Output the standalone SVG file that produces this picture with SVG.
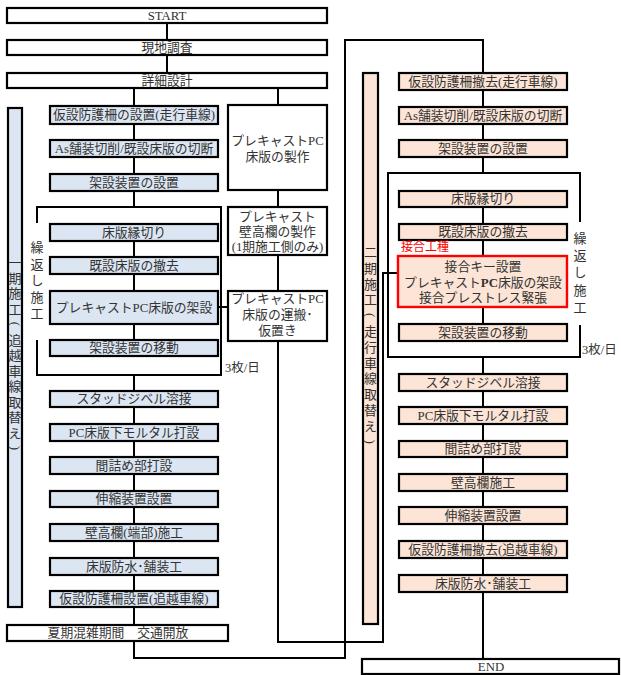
<svg xmlns="http://www.w3.org/2000/svg" width="621" height="675" viewBox="0 0 621 675">
<style>
.w{fill:#fff;stroke:#000;stroke-width:2.2}
.b{fill:#dce6f2;stroke:#000;stroke-width:2.2}
.p{fill:#fce4d6;stroke:#000;stroke-width:2.2}
.r{fill:#fce4d6;stroke:#ff0000;stroke-width:2.4}
.c{fill:none;stroke:#000;stroke-width:2}
text{font-family:"Liberation Serif","Noto Sans CJK JP",serif;font-size:12.8px;fill:#333;text-anchor:middle;dominant-baseline:central}
.v{font-size:13px}
.s{font-size:12.5px;text-anchor:start}
.red{fill:#ff0000;font-size:12px;text-anchor:start}
</style>
<g id="connectors">
<path class="c" d="M167 23V40M167 55V73M134 88V106M278 88V105M134 124V140M134 157V174M134 191V207M134 241V257M134 274V291M134 324V340M134 375V391M134 407V424M134 441V457M134 474V491M134 507V524M134 541V558M134 575V591M134 607V625"/>
<path class="c" d="M278 190V207M278 255V291M218 307H228"/>
<path class="c" d="M278 341V642H383V273H399"/>
<path class="c" d="M134 641V658H345V40H483V73"/>
<path class="c" d="M483 90V107M483 124V140M483 157V173M483 207V224M483 240V256M483 307V324M483 357V374M483 391V407M483 424V441M483 457V474M483 491V507M483 524V541M483 558V575M483 592V659"/>
</g>
<g id="loop1">
<path class="c" d="M37 223V207H221V375H37V340"/>
<text class="v"><tspan x="37" y="247">繰</tspan><tspan x="37" y="263.5">返</tspan><tspan x="37" y="280">し</tspan><tspan x="37" y="296.5">施</tspan><tspan x="37" y="313">工</tspan></text>
<text class="s" x="225" y="368">3枚/日</text>
</g>
<g id="loop2">
<path class="c" d="M580 222V173H388V357H580V325"/>
<text class="v"><tspan x="580" y="238">繰</tspan><tspan x="580" y="255.2">返</tspan><tspan x="580" y="272.4">し</tspan><tspan x="580" y="289.6">施</tspan><tspan x="580" y="306.8">工</tspan></text>
<text class="s" x="582" y="350">3枚/日</text>
</g>
<g id="start"><rect class="w" x="7" y="8" width="320" height="15"/><text x="167" y="15.5">START</text></g>
<g id="genchi"><rect class="w" x="7" y="40" width="320" height="15"/><text x="167" y="47.5">現地調査</text></g>
<g id="shosai"><rect class="w" x="7" y="73" width="320" height="15"/><text x="167" y="80.5">詳細設計</text></g>
<g id="phase1"><rect class="b" x="8" y="108" width="14" height="499"/>
<text class="v"><tspan x="15" y="262">一</tspan><tspan x="15" y="277.5">期</tspan><tspan x="15" y="293">施</tspan><tspan x="15" y="308.5">工</tspan><tspan x="15" y="339.5">追</tspan><tspan x="15" y="355">越</tspan><tspan x="15" y="370.5">車</tspan><tspan x="15" y="386">線</tspan><tspan x="15" y="401.5">取</tspan><tspan x="15" y="417">替</tspan><tspan x="15" y="432.5">え</tspan></text>
<text class="v" x="15" y="324" transform="rotate(90 15 324)">(</text>
<text class="v" x="15" y="448" transform="rotate(90 15 448)">)</text></g>
<g id="l1"><rect class="b" x="50" y="106" width="168" height="18"/><text x="134" y="115">仮設防護柵の設置(走行車線)</text></g>
<g id="l2"><rect class="b" x="50" y="140" width="168" height="17"/><text x="134" y="148.5">As舗装切削/既設床版の切断</text></g>
<g id="l3"><rect class="b" x="50" y="174" width="168" height="17"/><text x="134" y="182.5">架設装置の設置</text></g>
<g id="l4"><rect class="b" x="50" y="224" width="168" height="17"/><text x="134" y="232.5">床版縁切り</text></g>
<g id="l5"><rect class="b" x="50" y="257" width="168" height="17"/><text x="134" y="265.5">既設床版の撤去</text></g>
<g id="l6"><rect class="b" x="50" y="291" width="168" height="33"/><text x="134" y="307.5">プレキャストPC床版の架設</text></g>
<g id="l7"><rect class="b" x="50" y="340" width="168" height="16"/><text x="134" y="348">架設装置の移動</text></g>
<g id="l8"><rect class="b" x="50" y="391" width="168" height="16"/><text x="134" y="399">スタッドジベル溶接</text></g>
<g id="l9"><rect class="b" x="50" y="424" width="168" height="17"/><text x="134" y="432.5">PC床版下モルタル打設</text></g>
<g id="l10"><rect class="b" x="50" y="457" width="168" height="17"/><text x="134" y="465.5">間詰め部打設</text></g>
<g id="l11"><rect class="b" x="50" y="491" width="168" height="16"/><text x="134" y="499">伸縮装置設置</text></g>
<g id="l12"><rect class="b" x="50" y="524" width="168" height="17"/><text x="134" y="532.5">壁高欄(端部)施工</text></g>
<g id="l13"><rect class="b" x="50" y="558" width="168" height="17"/><text x="134" y="566.5">床版防水･舗装工</text></g>
<g id="l14"><rect class="b" x="50" y="591" width="168" height="16"/><text x="134" y="599">仮設防護柵設置(追越車線)</text></g>
<g id="kaki"><rect class="w" x="7" y="625" width="221" height="16"/><text x="118" y="633">夏期混雑期間　交通開放</text></g>
<g id="pc1"><rect class="w" x="228" y="105" width="99" height="85"/><text x="277.5" y="141">プレキャストPC</text><text x="277.5" y="157">床版の製作</text></g>
<g id="pc2"><rect class="w" x="228" y="207" width="99" height="48"/><text x="277.5" y="217">プレキャスト</text><text x="277.5" y="232">壁高欄の製作</text><text x="277.5" y="247">(1期施工側のみ)</text></g>
<g id="pc3"><rect class="w" x="228" y="291" width="99" height="50"/><text x="277.5" y="299">プレキャストPC</text><text x="277.5" y="315">床版の運搬･</text><text x="277.5" y="331">仮置き</text></g>
<g id="phase2"><rect class="p" x="363" y="73" width="15" height="551"/>
<text class="v"><tspan x="370.5" y="252">二</tspan><tspan x="370.5" y="267.8">期</tspan><tspan x="370.5" y="283.6">施</tspan><tspan x="370.5" y="299.4">工</tspan><tspan x="370.5" y="331">走</tspan><tspan x="370.5" y="346.8">行</tspan><tspan x="370.5" y="362.6">車</tspan><tspan x="370.5" y="378.4">線</tspan><tspan x="370.5" y="394.2">取</tspan><tspan x="370.5" y="410">替</tspan><tspan x="370.5" y="425.8">え</tspan></text>
<text class="v" x="370.5" y="315.2" transform="rotate(90 370.5 315.2)">(</text>
<text class="v" x="370.5" y="441.6" transform="rotate(90 370.5 441.6)">)</text></g>
<g id="r1"><rect class="p" x="399" y="73" width="168" height="17"/><text x="483" y="81.5">仮設防護柵撤去(走行車線)</text></g>
<g id="r2"><rect class="p" x="399" y="107" width="168" height="17"/><text x="483" y="115.5">As舗装切削/既設床版の切断</text></g>
<g id="r3"><rect class="p" x="399" y="140" width="168" height="17"/><text x="483" y="148.5">架設装置の設置</text></g>
<g id="r4"><rect class="p" x="399" y="191" width="168" height="16"/><text x="483" y="199">床版縁切り</text></g>
<g id="r5"><rect class="p" x="399" y="224" width="168" height="16"/><text x="483" y="232">既設床版の撤去</text></g>
<g id="r6"><text class="red" x="401" y="247">接合工種</text><rect class="r" x="398" y="256" width="169" height="51"/><text x="483" y="267">接合キー設置</text><text x="483" y="282.5">プレキャスト<tspan font-weight="bold">PC</tspan>床版の架設</text><text x="483" y="298">接合プレストレス緊張</text></g>
<g id="r7"><rect class="p" x="399" y="324" width="168" height="17"/><text x="483" y="332.5">架設装置の移動</text></g>
<g id="r8"><rect class="p" x="399" y="374" width="168" height="17"/><text x="483" y="382.5">スタッドジベル溶接</text></g>
<g id="r9"><rect class="p" x="399" y="407" width="168" height="17"/><text x="483" y="415.5">PC床版下モルタル打設</text></g>
<g id="r10"><rect class="p" x="399" y="441" width="168" height="16"/><text x="483" y="449">間詰め部打設</text></g>
<g id="r11"><rect class="p" x="399" y="474" width="168" height="17"/><text x="483" y="482.5">壁高欄施工</text></g>
<g id="r12"><rect class="p" x="399" y="507" width="168" height="17"/><text x="483" y="515.5">伸縮装置設置</text></g>
<g id="r13"><rect class="p" x="399" y="541" width="168" height="17"/><text x="483" y="549.5">仮設防護柵撤去(追越車線)</text></g>
<g id="r14"><rect class="p" x="399" y="575" width="168" height="17"/><text x="483" y="583.5">床版防水･舗装工</text></g>
<g id="end"><rect class="w" x="362" y="659" width="257" height="15"/><text x="491" y="666.5">END</text></g>
</svg>
